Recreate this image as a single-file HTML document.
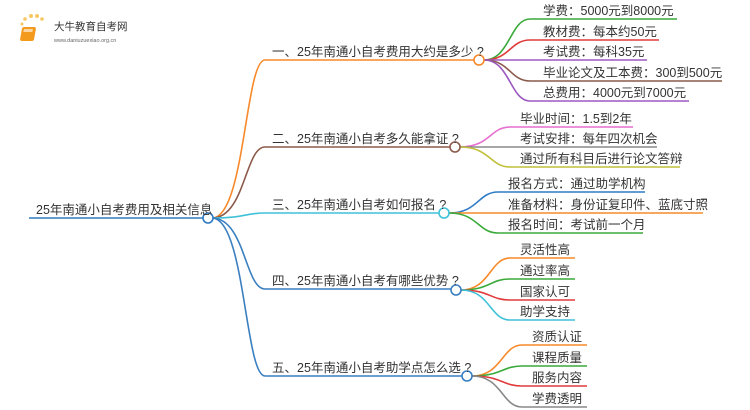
<!DOCTYPE html>
<html><head><meta charset="utf-8"><style>
html,body{margin:0;padding:0;background:#fff;width:750px;height:410px;overflow:hidden}
svg text{font-family:"Liberation Sans","Noto Sans CJK SC",sans-serif;fill:#333}
</style></head><body>
<svg width="750" height="410" viewBox="0 0 750 410" xmlns="http://www.w3.org/2000/svg">
<g>
<circle cx="22" cy="24" r="1.5" fill="#f8c860"/><circle cx="25" cy="19" r="1.8" fill="#f8c860"/><circle cx="31" cy="16" r="2" fill="#f8c860"/><circle cx="37" cy="16" r="2" fill="#f8c860"/><circle cx="42" cy="19" r="1.8" fill="#f8c860"/>
<rect x="27" y="27" width="14" height="14" rx="2" fill="#f39a1c" transform="skewX(-10)"/>
<rect x="29" y="29" width="9" height="3" fill="#fff" opacity=".6" transform="skewX(-10)"/>
<text x="54" y="30" font-size="10.5" style="fill:#333">大牛教育自考网</text>
<text x="54" y="42" font-size="5.5" style="fill:#666">www.daniuzuexiao.org.cn</text>
</g>
<g fill="none" stroke-width="1.6">
<line x1="29" y1="218" x2="204" y2="218" stroke="#2f7bc4"/>
<path d="M212 218 C245 218,245 60,265 60 L474 60" stroke="#f7892a"/>
<path d="M212 218 C245 218,245 147,265 147 L450 147" stroke="#8b5a4a"/>
<path d="M212 218 C245 218,245 213,265 213 L439 213" stroke="#3fc1d8"/>
<path d="M212 218 C245 218,245 289,265 289 L451 289" stroke="#3a7fc0"/>
<path d="M212 218 C245 218,245 376,265 376 L462 376" stroke="#3a7fc0"/>
<path d="M484 60 C510 60,510 19,530 19 L677 19" stroke="#3aaa3a"/>
<path d="M484 60 C510 60,510 40,530 40 L659 40" stroke="#e03c3c"/>
<path d="M484 60 C510 60,510 60,530 60 L647 60" stroke="#9b59c0"/>
<path d="M484 60 C510 60,510 81,530 81 L722 81" stroke="#8b5a4a"/>
<path d="M484 60 C510 60,510 101,530 101 L689 101" stroke="#9b59c0"/>
<path d="M460 147 C490 147,490 127,510 127 L633 127" stroke="#e66fcf"/>
<path d="M460 147 L657 147" stroke="#888"/>
<path d="M460 147 C490 147,490 167,510 167 L680 167" stroke="#c0c03a"/>
<path d="M449 213 C478 213,478 192,498 192 L645 192" stroke="#2f7bc4"/>
<path d="M449 213 L703 213" stroke="#f7892a"/>
<path d="M449 213 C478 213,478 233,498 233 L643 233" stroke="#3aaa3a"/>
<path d="M461 290 C490 290,490 258,510 258 L575 258" stroke="#f7892a"/>
<path d="M461 290 C490 290,490 279,510 279 L575 279" stroke="#3aaa3a"/>
<path d="M461 290 C490 290,490 300,510 300 L575 300" stroke="#e03c3c"/>
<path d="M461 290 C490 290,490 320,510 320 L575 320" stroke="#3fc1d8"/>
<path d="M472 376 C502 376,502 345,522 345 L587 345" stroke="#f7892a"/>
<path d="M472 376 C502 376,502 366,522 366 L587 366" stroke="#3aaa3a"/>
<path d="M472 376 C502 376,502 386,522 386 L587 386" stroke="#e03c3c"/>
<path d="M472 376 C502 376,502 407,522 407 L587 407" stroke="#888"/>
</g>
<g fill="#fff" stroke-width="1.6">
<circle cx="208" cy="218" r="5" stroke="#2f7bc4"/>
<circle cx="479" cy="60" r="5" stroke="#f7892a"/>
<circle cx="455" cy="147" r="5" stroke="#8b5a4a"/>
<circle cx="444" cy="213" r="5" stroke="#3fc1d8"/>
<circle cx="456" cy="290" r="5" stroke="#3a7fc0"/>
<circle cx="467" cy="376" r="5" stroke="#3a7fc0"/>
</g>
<g font-size="12.5">
<text x="36" y="214">25年南通小自考费用及相关信息</text>
<text x="272" y="56">一、25年南通小自考费用大约是多少 ?</text>
<text x="272" y="143">二、25年南通小自考多久能拿证 ?</text>
<text x="272" y="209">三、25年南通小自考如何报名 ?</text>
<text x="272" y="285">四、25年南通小自考有哪些优势 ?</text>
<text x="272" y="372">五、25年南通小自考助学点怎么选 ?</text>
<text x="543" y="15">学费：5000元到8000元</text>
<text x="543" y="36">教材费：每本约50元</text>
<text x="543" y="56">考试费：每科35元</text>
<text x="543" y="77">毕业论文及工本费：300到500元</text>
<text x="543" y="97">总费用：4000元到7000元</text>
<text x="520" y="123">毕业时间：1.5到2年</text>
<text x="520" y="143">考试安排：每年四次机会</text>
<text x="520" y="163">通过所有科目后进行论文答辩</text>
<text x="508" y="188">报名方式：通过助学机构</text>
<text x="508" y="209">准备材料：身份证复印件、蓝底寸照</text>
<text x="508" y="229">报名时间：考试前一个月</text>
<text x="520" y="254">灵活性高</text>
<text x="520" y="275">通过率高</text>
<text x="520" y="296">国家认可</text>
<text x="520" y="316">助学支持</text>
<text x="532" y="341">资质认证</text>
<text x="532" y="362">课程质量</text>
<text x="532" y="382">服务内容</text>
<text x="532" y="403">学费透明</text>
</g>
</svg>
</body></html>
